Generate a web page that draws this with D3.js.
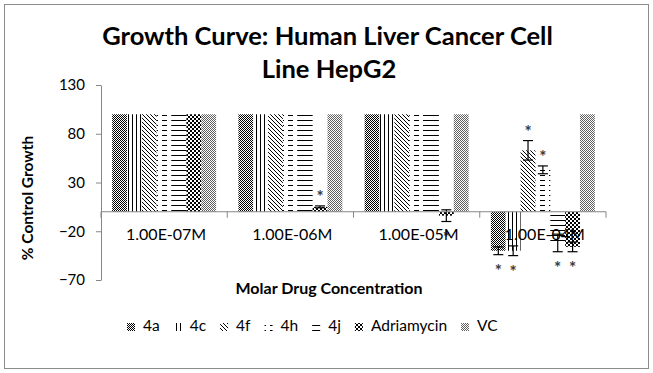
<!DOCTYPE html>
<html><head><meta charset="utf-8">
<script src="https://cdn.jsdelivr.net/npm/d3@7"></script>
<style>
body{margin:0;background:#fff}
svg{display:block}
text{font-family:Lato,"Open Sans",sans-serif;fill:#000}
</style>
</head><body>
<svg id="c" width="653" height="373"></svg>
<script>
// ---------- data ----------
const categories = ["1.00E-07M","1.00E-06M","1.00E-05M","1.00E-04M"];
const seriesNames = ["4a","4c","4f","4h","4j","Adriamycin","VC"];
const values4a   = [100,100,100,-40];
const values4c   = [100,100,100,-40];
const values4f   = [100,100,100,63];
const values4h   = [100,100,100,43];
const values4j   = [100,100,100,-32];
const valuesAdr  = [100,5,-4,-36];
const valuesVC   = [100,100,100,100];
const err4a  = [0,0,0,4];
const err4c  = [0,0,0,5];
const err4f  = [0,0,0,10];
const err4h  = [0,0,0,4];
const err4j  = [0,0,0,9];
const errAdr = [0,1,6,5];
const errVC  = [0,0,0,0];
const sig4a  = [false,false,false,true];
const sig4c  = [false,false,false,true];
const sig4f  = [false,false,false,true];
const sig4h  = [false,false,false,true];
const sig4j  = [false,false,false,true];
const sigAdr = [false,true,true,true];
const sigVC  = [false,false,false,false];
const yTicks = [-70,-20,30,80,130];
const titleLines = ["Growth Curve: Human Liver Cancer Cell","Line HepG2"];
const yTitle = "% Control Growth";
const xTitle = "Molar Drug Concentration";

const seriesValues = [values4a,values4c,values4f,values4h,values4j,valuesAdr,valuesVC];
const seriesErr = [err4a,err4c,err4f,err4h,err4j,errAdr,errVC];
const seriesSig = [sig4a,sig4c,sig4f,sig4h,sig4j,sigAdr,sigVC];

// ---------- layout ----------
const svg = d3.select("#c");
const L = 101, R = 606, T = 85, B = 280;
const axisColor = "#868686";

svg.append("rect").attr("x",4.5).attr("y",4.5).attr("width",644).attr("height",364)
  .attr("fill","#fff").attr("stroke","#8c8c8c").attr("stroke-width",1);

// patterns
const defs = svg.append("defs");
function pattern(id, w, h, cells, color){
  const p = defs.append("pattern").attr("id",id).attr("patternUnits","userSpaceOnUse")
    .attr("width",w).attr("height",h);
  p.append("rect").attr("width",w).attr("height",h).attr("fill","#fff");
  cells.forEach(c=>p.append("rect").attr("x",c[0]).attr("y",c[1]).attr("width",c[2]).attr("height",c[3])
    .attr("fill",color||"#000").attr("shape-rendering","crispEdges"));
}
pattern("p0",2,2,[[0,0,1,1],[1,1,1,1]]);
pattern("p1",4,4,[[0,0,1,4]]);
pattern("p2",4,4,[[0,0,1,1],[1,1,1,1],[2,2,1,1],[3,3,1,1]]);
pattern("p3",9,5,[[0,0,5,1]]);
pattern("p4",5,5,[[0,0,5,1]]);
pattern("p5",4,4,[[0,0,2,2],[2,2,2,2]]);
pattern("p6",2,2,[[0,0,1,1],[1,1,1,1]],"#606060");

const y = d3.scaleLinear().domain([-70,130]).range([B,T]);
const x0 = d3.scaleBand().domain(categories).range([L,R]);
const x1 = d3.scaleBand().domain(seriesNames).range([0,x0.bandwidth()]).paddingInner(0).paddingOuter(0.75);

const barData = [];
seriesNames.forEach((s,si)=>categories.forEach((c,ci)=>{
  barData.push({s,si,c,v:seriesValues[si][ci],e:seriesErr[si][ci],sig:seriesSig[si][ci]});
}));

svg.append("g").selectAll("rect").data(barData).join("rect")
  .attr("x",d=>x0(d.c)+x1(d.s))
  .attr("y",d=>Math.min(y(d.v),y(0)))
  .attr("width",x1.bandwidth())
  .attr("height",d=>Math.abs(y(d.v)-y(0)))
  .attr("fill",d=>`url(#p${d.si})`);

// error bars
const eb = svg.append("g").attr("stroke","#000").attr("stroke-width",1.2);
barData.filter(d=>d.e>0).forEach(d=>{
  const cx = x0(d.c)+x1(d.s)+x1.bandwidth()/2;
  const y1 = y(d.v+d.e), y2 = y(d.v-d.e);
  eb.append("line").attr("x1",cx).attr("x2",cx).attr("y1",y1).attr("y2",y2);
  eb.append("line").attr("x1",cx-5).attr("x2",cx+5).attr("y1",y1).attr("y2",y1);
  eb.append("line").attr("x1",cx-5).attr("x2",cx+5).attr("y1",y2).attr("y2",y2);
});

// y axis
const yAxis = d3.axisLeft(y).tickValues(yTicks).tickSize(5).tickSizeOuter(0).tickPadding(11);
const gy = svg.append("g").attr("transform",`translate(${L},0)`).call(yAxis);
gy.select(".domain").attr("stroke",axisColor);
gy.selectAll(".tick line").attr("stroke",axisColor);
gy.selectAll(".tick text").attr("font-size",15).attr("font-family","Lato").attr("fill","#000");

// x axis line and boundary ticks
svg.append("line").attr("x1",L).attr("x2",R).attr("y1",y(0)).attr("y2",y(0)).attr("stroke",axisColor);
const bounds = categories.map(c=>x0(c)).concat([R]);
svg.append("g").selectAll("line").data(bounds).join("line")
  .attr("x1",d=>d).attr("x2",d=>d).attr("y1",y(0)).attr("y2",y(0)+6).attr("stroke",axisColor);

// asterisks
svg.append("g").selectAll("text").data(barData.filter(d=>d.sig)).join("text")
  .attr("x",d=>x0(d.c)+x1(d.s)+x1.bandwidth()/2)
  .attr("y",d=>{
    const c = d.v>=0 ? y(d.v+d.e)-13 : y(d.v-d.e)+12;
    return c+10;})
  .attr("text-anchor","middle").attr("font-family","DejaVu Sans").attr("font-weight","bold")
  .attr("font-size",17).style("fill","#3a3a3a").text("*");

// category labels
svg.append("g").selectAll("text").data(categories).join("text")
  .attr("x",d=>x0(d)+x0.bandwidth()/2+2).attr("y",240)
  .attr("text-anchor","middle").attr("font-size",16).text(d=>d);

// titles
svg.append("g").selectAll("text").data(titleLines).join("text")
  .attr("x",(d,i)=>i===0?327.5:329).attr("y",(d,i)=>i===0?45:78)
  .attr("text-anchor","middle").attr("font-size",25.5).attr("font-weight","bold").text(d=>d);

svg.append("text").attr("transform","translate(33,198) rotate(-90)")
  .attr("text-anchor","middle").attr("font-size",15.5).attr("font-weight","bold").text(yTitle);
svg.append("text").attr("x",329).attr("y",294)
  .attr("text-anchor","middle").attr("font-size",16).attr("font-weight","bold").text(xTitle);

// legend
const lg = svg.append("g");
let lx = 127;
seriesNames.forEach((s,i)=>{
  lg.append("rect").attr("x",lx).attr("y",323).attr("width",8).attr("height",8).attr("fill",`url(#p${i})`);
  lx += 16;
  const t = lg.append("text").attr("x",lx).attr("y",331).attr("font-size",15.5).text(s);
  lx += t.node().getComputedTextLength() + 14;
});
</script>
</body></html>
